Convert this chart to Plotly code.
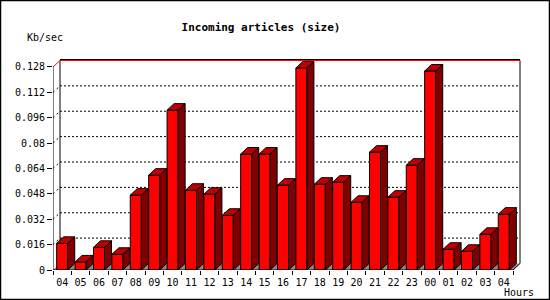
import plotly.graph_objects as go

hours = ["04", "05", "06", "07", "08", "09", "10", "11", "12", "13", "14", "15",
         "16", "17", "18", "19", "20", "21", "22", "23", "00", "01", "02", "03", "04"]
kbps = [0.0168, 0.0051, 0.0143, 0.0099, 0.0472, 0.0598, 0.1008, 0.0503, 0.0478,
        0.0345, 0.0731, 0.0731, 0.0535, 0.1274, 0.0541, 0.0554, 0.0427, 0.0743,
        0.0459, 0.0661, 0.1255, 0.0131, 0.0118, 0.0225, 0.0352]
y_ticks = [0, 0.016, 0.032, 0.048, 0.064, 0.08, 0.096, 0.112, 0.128]
y_tick_labels = ["0", "0.016", "0.032", "0.048", "0.064", "0.08", "0.096", "0.112", "0.128"]

W, H = 550, 300
ML, MR, MT, MB = 53, 23, 55, 30
PW, PH = W - ML - MR, H - MT - MB
PX_CAT = 18.4
PX_VAL = 1586.0

n = len(hours)
xpos = list(range(n))
BW = 0.6
DX = 7 / PX_CAT
DY = 6.5 / PX_VAL
YMAX = y_ticks[-1]
x_lo, x_hi = -0.5, n - 0.5
FONT = "DejaVu Sans Mono"

shapes = []

def seg(x0, y0, x1, y1, color="black", width=1, dash=None, layer="below"):
    shapes.append(dict(type="line", xref="x", yref="y", x0=x0, y0=y0, x1=x1, y1=y1,
                       line=dict(color=color, width=width, dash=dash), layer=layer))

# floor
shapes.append(dict(type="path", xref="x", yref="y", layer="below",
                   path=f"M{x_lo},0 L{x_hi},0 L{x_hi + DX},{DY} L{x_lo + DX},{DY} Z",
                   fillcolor="#8c8c8c", line=dict(width=0)))
# back-wall gridlines and left-wall diagonals
for v in y_ticks[1:-1]:
    seg(x_lo + DX, v + DY, x_hi + DX, v + DY, dash="2px,2px")
    seg(x_lo, v, x_lo + DX, v + DY, dash="2px,3px")
# wall edges
seg(x_lo + DX, DY, x_lo + DX, YMAX + DY)
seg(x_hi + DX, DY, x_hi + DX, YMAX + DY)
seg(x_lo + DX, YMAX + DY + 1 / PX_VAL, x_hi + DX, YMAX + DY + 1 / PX_VAL)
seg(x_lo, YMAX, x_lo + DX, YMAX + DY, color="#ff0000")
seg(x_lo + DX, YMAX + DY, x_hi + DX, YMAX + DY, color="#ff0000")
seg(x_hi, 0, x_hi + DX, DY)
# front axes
seg(x_lo, 0, x_lo, YMAX, layer="above")
seg(x_lo, 0, x_hi, 0, layer="above")

# image border
shapes.append(dict(type="rect", xref="paper", yref="paper",
                   x0=(0.5 - ML) / PW, x1=(W - 0.5 - ML) / PW,
                   y0=(0.5 - MB) / PH, y1=(H - 0.5 - MB) / PH,
                   line=dict(color="black", width=1.5), layer="above"))

fig = go.Figure()

# front faces
fig.add_trace(go.Bar(x=xpos, y=kbps, width=BW, hoverinfo="skip",
                     marker=dict(color="#ff0000", line=dict(color="black", width=1))))

# side & top faces
sx, sy, tx, ty = [], [], [], []
for x, v in zip(xpos, kbps):
    r = x + BW / 2
    l = x - BW / 2
    sx += [r, r + DX, r + DX, r, r, None]
    sy += [0, DY, v + DY, v, 0, None]
    tx += [l, r, r + DX, l + DX, l, None]
    ty += [v, v, v + DY, v + DY, v, None]
fig.add_trace(go.Scatter(x=sx, y=sy, mode="lines", fill="toself", fillcolor="#800000",
                         line=dict(color="black", width=1), hoverinfo="skip"))
fig.add_trace(go.Scatter(x=tx, y=ty, mode="lines", fill="toself", fillcolor="#c00000",
                         line=dict(color="black", width=1), hoverinfo="skip"))

fig.update_layout(
    width=W, height=H,
    margin=dict(l=ML, r=MR, t=MT, b=MB),
    paper_bgcolor="white", plot_bgcolor="white",
    showlegend=False,
    font=dict(family=FONT, size=10, color="black"),
    title=dict(text="Incoming articles (size)", xref="container", yref="container",
               x=261 / W, y=1 - 27.5 / H, xanchor="center", yanchor="middle",
               font=dict(family=FONT, size=11, color="black", weight="bold")),
    xaxis=dict(range=[x_lo, x_lo + PW / PX_CAT], tickmode="array", tickvals=xpos,
               ticktext=hours, ticks="", showgrid=False, zeroline=False, showline=False,
               ticklabelstandoff=5,
               tickfont=dict(family=FONT, size=10, color="black"),
               minor=dict(tickmode="array", tickvals=[x_lo + i for i in range(n + 1)],
                          ticks="outside", ticklen=4, tickcolor="black", tickwidth=1,
                          showgrid=False)),
    yaxis=dict(range=[0, PH / PX_VAL], tickmode="array", tickvals=y_ticks,
               ticktext=y_tick_labels, ticks="outside", ticklen=5, tickcolor="black",
               showgrid=False, zeroline=False, showline=False,
               tickfont=dict(family=FONT, size=10, color="black")),
    annotations=[
        dict(text="Kb/sec", xref="paper", yref="paper", x=(45 - ML) / PW,
             y=(H - 37.5 - MB) / PH, showarrow=False, xanchor="center", yanchor="middle",
             font=dict(family=FONT, size=10, color="black")),
        dict(text="Hours", xref="paper", yref="paper", x=(519 - ML) / PW,
             y=(H - 292 - MB) / PH, showarrow=False, xanchor="center", yanchor="middle",
             font=dict(family=FONT, size=10, color="black")),
    ],
    shapes=shapes,
)

fig.write_html("out.html")
